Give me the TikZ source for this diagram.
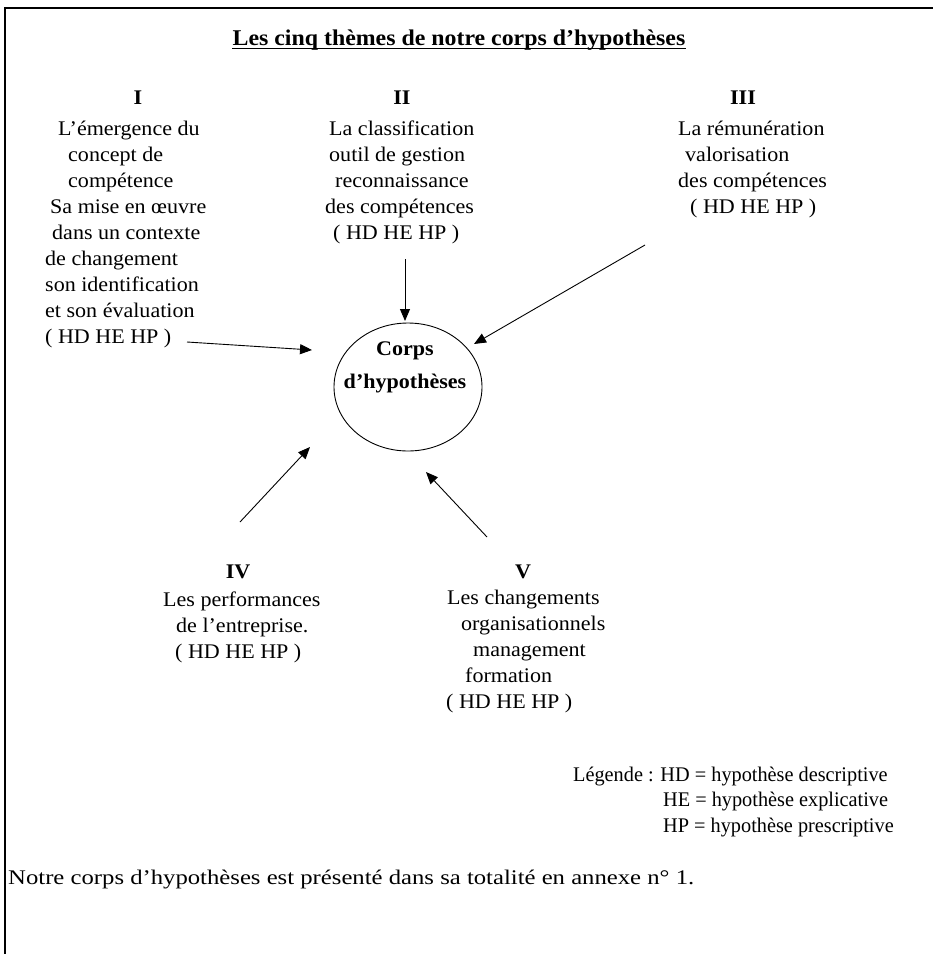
\documentclass[tikz,border=0pt]{standalone}
\usepackage{fontspec}
\setmainfont{Liberation Serif}[FakeStretch=1.06]
\usetikzlibrary{arrows.meta,shapes.geometric}
\begin{document}
\begin{tikzpicture}[x=1pt,y=-1pt,
  txt/.style={inner sep=0pt,anchor=base west,font=\fontsize{20.8}{26}\selectfont},
  num/.style={inner sep=0pt,anchor=base,font=\fontsize{20.8}{26}\selectfont\bfseries},
  arr/.style={line width=0.9pt,-{Triangle[length=12pt,width=10pt]}},
  frame/.style={line width=1.6pt}]
\useasboundingbox (0,0) rectangle (933,954);
% frame
\coordinate (fb) at (5,954);
\coordinate (fc) at (5,8);
\coordinate (fr) at (933,8);
\draw[frame] (fb) -- (fc) -- (fr);
% title
\node[inner sep=0pt,anchor=base,font=\fontsize{22.5}{26}\selectfont\bfseries] (title) at (459,45) {Les cinq thèmes de notre corps d’hypothèses};
\draw[line width=0.9pt] ([yshift=-3pt]title.base west) -- ([yshift=-3pt]title.base east);
% numerals
\node[num] (nI) at (138,104) {I};
\node[num] (nII) at (402,104) {II};
\node[num] (nIII) at (743,104) {III};
\node[num] (nIV) at (238,578) {IV};
\node[num] (nV) at (523,578) {V};
% block I
\node[txt] (a1) at (58,135) {L’émergence du};
\node[txt] (a2) at (68,161) {concept de};
\node[txt] (a3) at (68,187) {compétence};
\node[txt] (a4) at (50,213) {Sa mise en œuvre};
\node[txt] (a5) at (52,239) {dans un contexte};
\node[txt] (a6) at (45,265) {de changement};
\node[txt] (a7) at (45,291) {son identification};
\node[txt] (a8) at (45,317) {et son évaluation};
\node[txt] (a9) at (45,343) {( HD HE HP )};
% block II
\node[txt] (b1) at (329,135) {La classification};
\node[txt] (b2) at (329,161) {outil de gestion};
\node[txt] (b3) at (335,187) {reconnaissance};
\node[txt] (b4) at (325,213) {des compétences};
\node[txt] (b5) at (333,239) {( HD HE HP )};
% block III
\node[txt] (c1) at (678,135) {La rémunération};
\node[txt] (c2) at (685,161) {valorisation};
\node[txt] (c3) at (678,187) {des compétences};
\node[txt] (c4) at (690,213) {( HD HE HP )};
% block IV
\node[txt] (d1) at (163,606) {Les performances};
\node[txt] (d2) at (176,632) {de l’entreprise.};
\node[txt] (d3) at (175,658) {( HD HE HP )};
% block V
\node[txt] (e1) at (447,604) {Les changements};
\node[txt] (e2) at (461,630) {organisationnels};
\node[txt] (e3) at (473,656) {management};
\node[txt] (e4) at (465,682) {formation};
\node[txt] (e5) at (446,708) {( HD HE HP )};
% centre
\node[draw,ellipse,line width=0.9pt,minimum width=148pt,minimum height=128pt,inner sep=0pt] (core) at (408,387) {};
\node[num] (core1) at (405,355) {Corps};
\node[num] (core2) at (405,388) {d’hypothèses};
% arrows
\coordinate (sI) at (187,342);  \coordinate (tI) at (312,350);
\coordinate (sII) at (405,259); \coordinate (tII) at (405,321);
\coordinate (sIII) at (645,245);\coordinate (tIII) at (474,344);
\coordinate (sIV) at (240,522); \coordinate (tIV) at (310,447);
\coordinate (sV) at (487,537);  \coordinate (tV) at (426,472);
\draw[arr] (sI) -- (tI);
\draw[arr] (sII) -- (tII);
\draw[arr] (sIII) -- (tIII);
\draw[arr] (sIV) -- (tIV);
\draw[arr] (sV) -- (tV);
% legend
\node[txt,xscale=0.92,transform shape] (l1) at (573,781) {Légende : HD = hypothèse descriptive};
\node[txt,xscale=0.92,transform shape] (l2) at (663,806) {HE = hypothèse explicative};
\node[txt,xscale=0.92,transform shape] (l3) at (663,832) {HP = hypothèse prescriptive};
% footer
\node[txt,xscale=1.12,transform shape] (foot) at (8,884) {Notre corps d’hypothèses est présenté dans sa totalité en annexe n° 1.};
\end{tikzpicture}
\end{document}
